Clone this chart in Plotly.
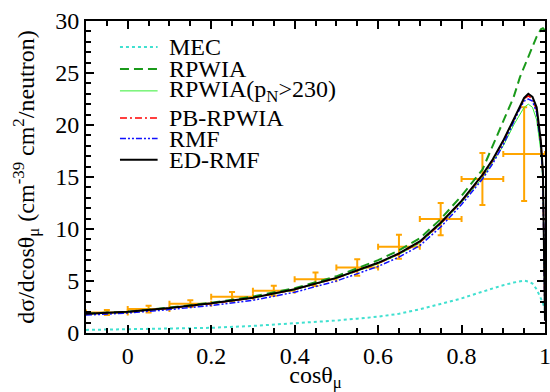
import plotly.graph_objects as go

# Muon angular distribution: theory curves and measured data
cos_mu = [-0.1, 0.0, 0.1, 0.2, 0.3, 0.4, 0.5, 0.55, 0.6, 0.65, 0.7, 0.75, 0.8,
          0.85, 0.875, 0.9, 0.925, 0.94, 0.95, 0.96, 0.97, 0.98, 0.99, 0.995, 1.0]

mec = [0.30, 0.35, 0.42, 0.50, 0.68, 0.93, 1.20, 1.38, 1.57, 1.85, 2.28, 2.79, 3.33,
       3.97, 4.30, 4.60, 4.85, 5.00, 5.03, 4.95, 4.75, 4.20, 3.40, 2.90, 2.20]

rpwia = [1.85, 2.05, 2.45, 2.90, 3.50, 4.30, 5.45, 6.20, 7.00, 7.95, 9.10, 10.95, 13.20,
         15.70, 18.00, 20.40, 22.70, 24.60, 25.60, 26.60, 27.60, 28.50, 29.20, 29.30, 29.10]

rpwia_pn = [1.80, 2.00, 2.38, 2.82, 3.36, 4.15, 5.25, 5.92, 6.65, 7.55, 8.65, 10.45, 12.55,
            14.90, 16.40, 18.00, 20.00, 21.10, 21.70, 22.00, 21.70, 20.50, 17.50, 14.50, 1.20]

pb_rpwia = [1.82, 2.02, 2.38, 2.82, 3.37, 4.17, 5.27, 5.96, 6.70, 7.60, 8.70, 10.50, 12.65,
            15.10, 16.60, 18.40, 20.50, 21.80, 22.50, 22.80, 22.50, 21.40, 18.30, 15.20, 1.20]

rmf = [1.72, 1.92, 2.25, 2.65, 3.15, 3.92, 5.00, 5.68, 6.40, 7.30, 8.40, 10.20, 12.35,
       14.80, 16.30, 18.10, 20.30, 21.60, 22.30, 22.50, 22.30, 21.20, 18.10, 15.00, 1.20]

ed_rmf = [1.85, 2.05, 2.40, 2.85, 3.40, 4.20, 5.30, 6.00, 6.75, 7.65, 8.80, 10.60, 12.70,
          15.20, 16.70, 18.50, 20.60, 21.90, 22.60, 23.00, 22.70, 21.70, 18.50, 15.50, 1.20]

# Measured cross section per bin
data_cos = [-0.05, 0.05, 0.15, 0.25, 0.35, 0.45, 0.55, 0.65, 0.75, 0.85, 0.95]
data_val = [1.97, 2.30, 2.82, 3.49, 4.07, 5.16, 6.30, 8.30, 10.96, 14.80, 17.20]
data_err = [0.23, 0.33, 0.32, 0.45, 0.48, 0.65, 0.80, 1.15, 1.55, 2.50, 4.50]
bin_half = [0.05] * len(data_cos)

x_tickvals = [0, 0.2, 0.4, 0.6, 0.8, 1.0]
x_ticktext = ["0", "0.2", "0.4", "0.6", "0.8", "1"]
y_tickvals = [0, 5, 10, 15, 20, 25, 30]

FONT = "Liberation Serif"
ORANGE = "#FFA500"

fig = go.Figure()

fig.add_trace(go.Scatter(
    x=data_cos, y=data_val, mode="markers",
    marker=dict(size=1, color=ORANGE),
    error_y=dict(type="data", array=data_err, color=ORANGE, thickness=2, width=3),
    error_x=dict(type="data", array=bin_half, color=ORANGE, thickness=2, width=3),
    showlegend=False, hoverinfo="skip",
))

curves = [
    ("MEC", mec, dict(color="#40E0D0", width=2, dash="dot")),
    ("RPWIA", rpwia, dict(color="#1A9A1A", width=2, dash="9px,5px")),
    ("RPWIA(p<sub>N</sub>&gt;230)", rpwia_pn, dict(color="#33EE33", width=1)),
    ("PB-RPWIA", pb_rpwia, dict(color="#FF0000", width=1.5, dash="7px,3px,2px,3px")),
    ("RMF", rmf, dict(color="#1010FF", width=1.5, dash="6px,2px,2px,2px,2px,2px")),
    ("ED-RMF", ed_rmf, dict(color="#000000", width=2)),
]
for name, vals, line in curves:
    fig.add_trace(go.Scatter(x=cos_mu, y=vals, mode="lines", name=name, line=line,
                             showlegend=False))

# Compact key in the upper-left corner of the plotting area
key_x0, key_x1, key_text_x = 0.074, 0.156, 0.176
key_rows = [0.917, 0.846, 0.776, 0.689, 0.623, 0.555]
for (name, _, line), ky in zip(curves, key_rows):
    fig.add_shape(type="line", xref="x domain", yref="y domain",
                  x0=key_x0, x1=key_x1, y0=ky, y1=ky, line=line)
    fig.add_annotation(xref="x domain", yref="y domain", x=key_text_x, y=ky,
                       xanchor="left", yanchor="middle", text=name, showarrow=False,
                       font=dict(family=FONT, size=24, color="black"))

axis_common = dict(
    showline=True, linecolor="black", linewidth=2, mirror="allticks",
    ticks="inside", ticklen=8, tickwidth=1.5, tickcolor="black",
    showgrid=False, zeroline=False,
    tickfont=dict(family=FONT, size=24, color="black"),
)

fig.update_xaxes(
    range=[-0.1, 1.0], tickvals=x_tickvals, ticktext=x_ticktext,
    ticklabeloverflow="allow",
    minor=dict(dtick=0.05, tick0=0, ticks="inside", ticklen=5, tickwidth=1.5, tickcolor="black"),
    title=dict(text="cosθ<sub>μ</sub>", font=dict(family=FONT, size=24, color="black"), standoff=0),
    **axis_common,
)
fig.update_yaxes(
    range=[0, 30], tickvals=y_tickvals, automargin=True,
    minor=dict(dtick=1, tick0=0, ticks="inside", ticklen=5, tickwidth=1.5, tickcolor="black"),
    title=dict(text="dσ/dcosθ<sub>μ</sub> (cm<sup>-39</sup> cm<sup>2</sup>/neutron)",
               font=dict(family=FONT, size=24, color="black"), standoff=14),
    **axis_common,
)

fig.update_layout(
    template="none",
    width=550, height=392,
    margin=dict(l=86, r=3, t=21, b=59),
    paper_bgcolor="white", plot_bgcolor="white",
    font=dict(family=FONT, color="black", size=24),
    showlegend=False,
)

fig.write_html("out.html")
